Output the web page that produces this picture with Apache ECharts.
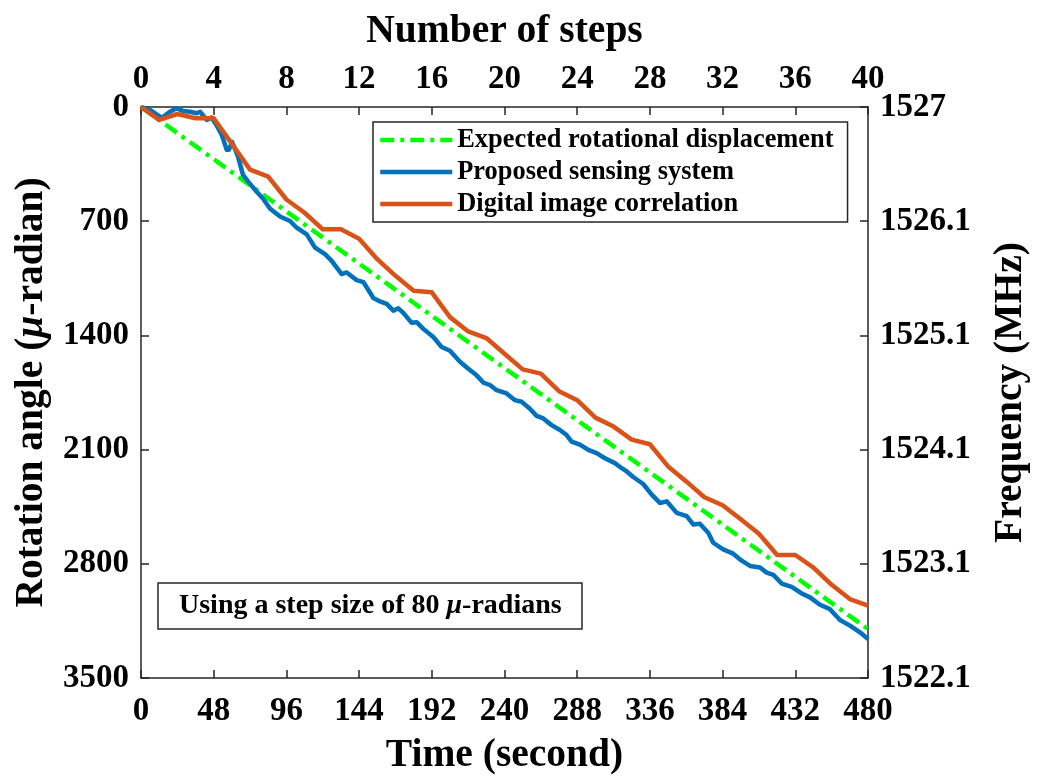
<!DOCTYPE html>
<html>
<head>
<meta charset="utf-8">
<script src="https://cdn.jsdelivr.net/npm/echarts@6/dist/echarts.min.js"></script>
<style>
  html, body { margin: 0; padding: 0; background: #ffffff; }
  #chart { width: 1039px; height: 781px; }
</style>
</head>
<body>
<div id="chart"></div>
<script>
// Proposed sensing system: sample time (s) and rotation angle (μrad)
const sensorTime = [0, 5.9, 12.5, 14.5, 19.1, 23.6, 27.7, 32.4, 36.8, 39, 43.4, 46.5, 49.8, 53.3, 56.6, 58.1,
  60.1, 64, 67.3, 70.6, 76.1, 80.5, 85.1, 91.8, 98.4, 102.8, 109.4, 114.9, 121.5, 125.9, 132.5, 135.8,
  142.4, 146.8, 153.4, 157.8, 162.2, 166.6, 169.9, 173.2, 178.7, 182, 186.4, 193, 198.5, 204, 210.6,
  216.1, 221.6, 226, 230.4, 234.8, 241.4, 246.9, 251.3, 256.6, 261.2, 265.6, 271.1, 276.6, 281, 284.3,
  289.8, 295.3, 300.8, 306.3, 312.9, 317.4, 320.7, 325, 331.6, 337.2, 342.6, 347.1, 353.7, 360.3, 364.6,
  369, 374.5, 377.8, 384.4, 391, 396.6, 402.1, 408.7, 413.1, 417.5, 423, 429.6, 436.2, 441.7, 448.3,
  454.9, 461.5, 468.1, 474.7, 480];
const sensorAngle = [0, 18, 59, 61, 29, 8, 24, 29, 38, 29, 79, 65, 110, 171, 262, 262,
  213, 303, 415, 456, 516, 561, 622, 671, 699, 740, 781, 862, 902, 943, 1024, 1014,
  1061, 1073, 1171, 1192, 1207, 1248, 1234, 1262, 1323, 1319, 1360, 1410, 1471, 1494, 1561,
  1604, 1645, 1689, 1704, 1736, 1756, 1797, 1807, 1848, 1893, 1909, 1950, 1980, 2011, 2051,
  2070, 2102, 2122, 2153, 2183, 2214, 2234, 2268, 2311, 2376, 2427, 2417, 2488, 2508, 2559,
  2555, 2610, 2671, 2712, 2738, 2781, 2813, 2823, 2854, 2868, 2921, 2941, 2982, 3006, 3051,
  3078, 3145, 3179, 3220, 3261];

// Digital image correlation: one reading per step (μrad)
const dicSteps = [0, 1, 2, 3, 4, 5, 6, 7, 8, 9, 10, 11, 12, 13, 14, 15, 16, 17, 18, 19, 20,
  21, 22, 23, 24, 25, 26, 27, 28, 29, 30, 31, 32, 33, 34, 35, 36, 37, 38, 39, 40];
const dicAngle = [0, 79, 43, 69, 69, 226, 384, 427, 567, 648, 750, 750, 807, 933, 1035, 1126, 1136,
  1288, 1376, 1416, 1512, 1608, 1634, 1742, 1797, 1904, 1959, 2039, 2067, 2203, 2295, 2392, 2441,
  2527, 2616, 2746, 2746, 2823, 2929, 3016, 3057];

// Expected rotation: 80 μrad per step over 40 steps
const expectedTime = [0, 480];
const expectedAngle = [0, 3200];

// Frequency labels on the right axis, top to bottom
const freqLabels = ['1527', '1526.1', '1525.1', '1524.1', '1523.1', '1522.1'];

const FONT = '"Liberation Serif", "Times New Roman", serif';
const AXIS_COLOR = '#262626';

const sensorData = sensorTime.map((t, i) => [t, sensorAngle[i]]);
const dicData = dicSteps.map((s, i) => [s, dicAngle[i]]);
const expectedData = expectedTime.map((t, i) => [t, expectedAngle[i]]);

const axisLine = { show: true, onZero: false, lineStyle: { color: AXIS_COLOR, width: 1.5 } };
const axisTick = { show: true, inside: true, length: 8, lineStyle: { color: AXIS_COLOR, width: 1.5 } };
const labelStyle = { fontFamily: FONT, fontWeight: 'bold', fontSize: 33, color: '#000' };
const nameStyle = { fontFamily: FONT, fontWeight: 'bold', fontSize: 39.5, color: '#000' };
const plain = (v) => String(v);

const chart = echarts.init(document.getElementById('chart'), null, { renderer: 'canvas' });

chart.setOption({
  backgroundColor: '#ffffff',
  animation: false,
  title: {
    text: '{a|Using a step size of 80 }{i|μ}{a|-radians}',
    left: 158,
    top: 583,
    padding: [9, 21, 9, 21],
    borderColor: AXIS_COLOR,
    borderWidth: 1.5,
    backgroundColor: '#ffffff',
    textStyle: {
      rich: {
        a: { fontFamily: FONT, fontWeight: 'bold', fontSize: 28, color: '#000' },
        i: { fontFamily: FONT, fontWeight: 'bold', fontStyle: 'italic', fontSize: 28, color: '#000' }
      }
    }
  },
  legend: {
    orient: 'vertical',
    left: 373,
    top: 122,
    padding: [5, 14, 5, 5],
    itemWidth: 72,
    itemHeight: 12,
    itemGap: 6,
    itemTextGap: 5,
    borderColor: AXIS_COLOR,
    borderWidth: 1.5,
    backgroundColor: '#ffffff',
    itemStyle: { opacity: 0 },
    lineStyle: { width: 4.5 },
    textStyle: { fontFamily: FONT, fontWeight: 'bold', fontSize: 26.4, color: '#000' },
    data: ['Expected rotational displacement', 'Proposed sensing system', 'Digital image correlation']
  },
  grid: { left: 141, right: 171, top: 107, bottom: 100, containLabel: false },
  xAxis: [
    {
      type: 'value', position: 'bottom', min: 0, max: 480, interval: 48,
      name: 'Time (second)', nameLocation: 'middle', nameGap: 58, nameTextStyle: nameStyle,
      axisLine, axisTick, splitLine: { show: false },
      axisLabel: Object.assign({ margin: 17, formatter: plain }, labelStyle)
    },
    {
      type: 'value', position: 'top', min: 0, max: 40, interval: 4,
      name: 'Number of steps', nameLocation: 'middle', nameGap: 55, nameTextStyle: nameStyle,
      axisLine, axisTick, splitLine: { show: false },
      axisLabel: Object.assign({ margin: 11, formatter: plain }, labelStyle)
    }
  ],
  yAxis: [
    {
      type: 'value', position: 'left', inverse: true, min: 0, max: 3500, interval: 700,
      name: '{a|Rotation angle (}{i|μ}{a|-radian)}', nameLocation: 'middle', nameGap: 89, nameRotate: 90,
      nameTextStyle: {
        rich: {
          a: nameStyle,
          i: Object.assign({}, nameStyle, { fontStyle: 'italic' })
        }
      },
      axisLine, axisTick, splitLine: { show: false },
      axisLabel: Object.assign({ margin: 12, formatter: plain }, labelStyle)
    },
    {
      type: 'value', position: 'right', inverse: true, min: 0, max: 3500, interval: 700,
      name: 'Frequency (MHz)', nameLocation: 'middle', nameGap: 123, nameRotate: 90, nameTextStyle: nameStyle,
      axisLine, axisTick, splitLine: { show: false },
      axisLabel: Object.assign({
        margin: 12,
        formatter: (v) => freqLabels[Math.round(v / 700)]
      }, labelStyle)
    }
  ],
  series: [
    {
      name: 'Expected rotational displacement', type: 'line', xAxisIndex: 0, yAxisIndex: 0,
      data: expectedData, showSymbol: false, symbol: 'none',
      lineStyle: { color: '#00ff00', width: 4.5, type: [14, 6, 4, 6] },
      itemStyle: { color: '#00ff00' }
    },
    {
      name: 'Proposed sensing system', type: 'line', xAxisIndex: 0, yAxisIndex: 0,
      data: sensorData, showSymbol: false, symbol: 'none',
      lineStyle: { color: '#0072bd', width: 4.5, join: 'round' },
      itemStyle: { color: '#0072bd' }
    },
    {
      name: 'Digital image correlation', type: 'line', xAxisIndex: 1, yAxisIndex: 0,
      data: dicData, showSymbol: false, symbol: 'none',
      lineStyle: { color: '#d95319', width: 4.5, join: 'round' },
      itemStyle: { color: '#d95319' }
    }
  ]
});
</script>
</body>
</html>
